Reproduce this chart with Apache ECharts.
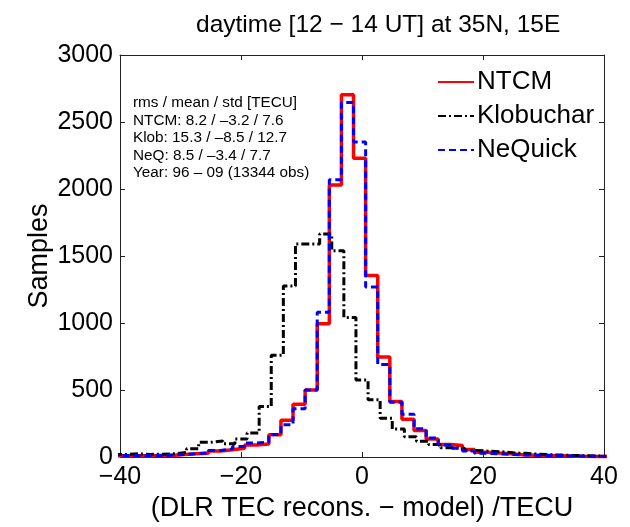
<!DOCTYPE html>
<html>
<head>
<meta charset="utf-8">
<script src="https://cdn.jsdelivr.net/npm/echarts@6/dist/echarts.min.js"></script>
<style>
html,body{margin:0;padding:0;background:#fff;}
#chart{width:630px;height:527px;}
</style>
</head>
<body>
<div id="chart"></div>
<script>
// ---- data ----
const titleText = 'daytime [12 \u2212 14 UT] at 35N, 15E';
const xAxisLabel = '(DLR TEC recons. \u2212 model) /TECU';
const yAxisLabel = 'Samples';
const seriesNames = ['NTCM', 'Klobuchar', 'NeQuick'];
const statsLines = [
  'rms / mean / std [TECU]',
  'NTCM: 8.2 / \u20133.2 / 7.6',
  'Klob: 15.3 / \u20138.5 / 12.7',
  'NeQ: 8.5 / \u20133.4 / 7.7',
  'Year: 96 \u2013 09 (13344 obs)'
];

// bin edges (TECU) for NTCM / NeQuick histograms
const modelBinEdges = [-41.4,-39.4,-37.4,-35.4,-33.4,-31.4,-29.4,-27.4,-25.4,-23.4,-21.4,-19.4,-17.4,-15.4,-13.4,-11.4,-9.4,-7.4,-5.4,-3.4,-1.4,0.6,2.6,4.6,6.6,8.6,10.6,12.6,14.6,16.6,18.6,20.6,22.6,24.6,26.6,28.6,30.6,32.6,34.6,36.6,38.6,40.6];
// bin edges (TECU) for Klobuchar histogram
const klobBinEdges = [-41,-39,-37,-35,-33,-31,-29,-27,-25,-23,-21,-19,-17,-15,-13,-11,-9,-7,-5,-3,-1,1,3,5,7,9,11,13,15,17,19,21,23,25,27,29,31,33,35,37,39,41];

const ntcmCounts = [10,10,10,12,12,20,25,28,45,55,66,90,98,166,275,394,500,995,2030,2704,2230,1355,746,414,283,198,135,94,86,57,37,30,25,18,14,12,10,8,6,5,5];
const nequickCounts = [12,10,12,10,15,20,25,32,49,61,80,106,110,168,241,360,500,1080,2070,2645,2350,1270,690,410,320,212,143,90,66,45,28,25,20,16,14,12,10,8,7,6,5];
const klobCounts = [20,25,20,22,25,35,62,110,120,100,135,180,377,760,1276,1590,1590,1665,1540,1042,575,428,290,209,152,118,94,70,65,50,44,40,32,28,22,18,15,12,10,8,6];

const xTicks = { min: -40, max: 40, interval: 20 };
const yTicks = { min: 0, max: 3000, interval: 500 };

// ---- build ----
function histPoints(edges, counts) {
  return edges.map((e, i) => [e, i < counts.length ? counts[i] : counts[counts.length - 1]]);
}

const FONT = '"Liberation Sans", Arial, Helvetica, sans-serif';
const AXC = '#222';

const chart = echarts.init(document.getElementById('chart'), null, { renderer: 'canvas' });

const minusFmt = v => (v < 0 ? '\u2212' + Math.abs(v) : String(v));

const option = {
  animation: false,
  backgroundColor: '#fff',
  title: {
    text: titleText,
    left: 191,
    top: 8,
    textStyle: { fontFamily: FONT, fontWeight: 'normal', fontSize: 24.5, color: '#000' }
  },
  grid: { left: 120, right: 26, top: 55, bottom: 66, containLabel: false },
  legend: {
    orient: 'vertical',
    left: 432,
    top: 64,
    itemWidth: 36,
    itemHeight: 14,
    itemGap: 8,
    data: seriesNames,
    itemStyle: { opacity: 0, borderWidth: 0 },
    textStyle: { fontFamily: FONT, fontSize: 26, color: '#000', padding: [0, 0, 0, -2] }
  },
  xAxis: [
    {
      type: 'value', position: 'bottom',
      min: xTicks.min, max: xTicks.max, interval: xTicks.interval,
      name: xAxisLabel, nameLocation: 'middle', nameGap: 31,
      nameTextStyle: { fontFamily: FONT, fontSize: 27, color: '#000' },
      axisLine: { show: true, onZero: false, lineStyle: { color: AXC, width: 1 } },
      axisTick: { show: true, inside: true, length: 5, lineStyle: { color: AXC } },
      axisLabel: { fontFamily: FONT, fontSize: 25, color: '#000', margin: 8, formatter: minusFmt },
      splitLine: { show: false }
    },
    {
      type: 'value', position: 'top',
      min: xTicks.min, max: xTicks.max, interval: xTicks.interval,
      axisLine: { show: true, onZero: false, lineStyle: { color: AXC, width: 1 } },
      axisTick: { show: true, inside: true, length: 5, lineStyle: { color: AXC } },
      axisLabel: { show: false },
      splitLine: { show: false }
    }
  ],
  yAxis: [
    {
      type: 'value', position: 'left',
      min: yTicks.min, max: yTicks.max, interval: yTicks.interval,
      name: yAxisLabel, nameLocation: 'middle', nameGap: 67, nameRotate: 90,
      nameMoveOverlap: false,
      nameTextStyle: { fontFamily: FONT, fontSize: 27, color: '#000' },
      axisLine: { show: true, onZero: false, lineStyle: { color: AXC, width: 1 } },
      axisTick: { show: true, inside: true, length: 5, lineStyle: { color: AXC } },
      axisLabel: { fontFamily: FONT, fontSize: 25, color: '#000', margin: 7, formatter: v => String(v) },
      splitLine: { show: false }
    },
    {
      type: 'value', position: 'right',
      min: yTicks.min, max: yTicks.max, interval: yTicks.interval,
      axisLine: { show: true, onZero: false, lineStyle: { color: AXC, width: 1 } },
      axisTick: { show: true, inside: true, length: 5, lineStyle: { color: AXC } },
      axisLabel: { show: false },
      splitLine: { show: false }
    }
  ],
  graphic: [
    {
      type: 'text',
      left: 133,
      top: 94,
      z: 100,
      style: {
        text: statsLines.join('\n'),
        font: '15.3px ' + FONT,
        lineHeight: 17.6,
        fill: '#000'
      }
    }
  ],
  series: [
    {
      name: seriesNames[0], type: 'line', step: 'end', xAxisIndex: 0, yAxisIndex: 0,
      data: histPoints(modelBinEdges, ntcmCounts),
      showSymbol: false, symbol: 'none', clip: true, z: 2,
      itemStyle: { color: '#ff0000' },
      lineStyle: { color: '#ff0000', width: 3.5, type: 'solid' }
    },
    {
      name: seriesNames[1], type: 'line', step: 'end', xAxisIndex: 0, yAxisIndex: 0,
      data: histPoints(klobBinEdges, klobCounts),
      showSymbol: false, symbol: 'none', clip: true, z: 3,
      itemStyle: { color: '#000000' },
      lineStyle: { color: '#000000', width: 3, type: [8, 3, 2, 3] }
    },
    {
      name: seriesNames[2], type: 'line', step: 'end', xAxisIndex: 0, yAxisIndex: 0,
      data: histPoints(modelBinEdges, nequickCounts),
      showSymbol: false, symbol: 'none', clip: true, z: 4,
      itemStyle: { color: '#0000ff' },
      lineStyle: { color: '#0000ff', width: 3, type: [7, 4] }
    }
  ]
};
chart.setOption(option);
</script>
</body>
</html>
